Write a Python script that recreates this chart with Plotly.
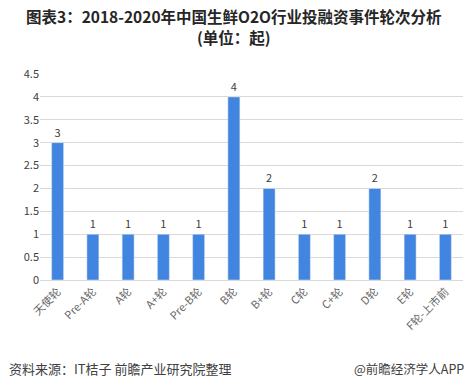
import plotly.graph_objects as go

categories = ["天使轮", "Pre-A轮", "A轮", "A+轮", "Pre-B轮", "B轮", "B+轮", "C轮", "C+轮", "D轮", "E轮", "F轮-上市前"]
values = [3, 1, 1, 1, 1, 4, 2, 1, 1, 2, 1, 1]
y_ticks = [0, 0.5, 1, 1.5, 2, 2.5, 3, 3.5, 4, 4.5]
y_tick_labels = ["0", "0.5", "1", "1.5", "2", "2.5", "3", "3.5", "4", "4.5"]

W, H = 469, 390
L, R, T, B = 40, 6, 74, 110
pw, ph = W - L - R, H - T - B

def px(x):
    return (x - L) / pw

def py(y):
    return (H - B - y) / ph

fig = go.Figure()
fig.add_trace(go.Bar(
    x=categories, y=values, width=0.34,
    marker=dict(color="#4285E0"),
    text=[str(v) for v in values], textposition="outside",
    textfont=dict(size=11, color="#404040"),
    cliponaxis=False,
))

fig.update_layout(
    width=W, height=H,
    margin=dict(l=L, r=R, t=T, b=B, autoexpand=False),
    plot_bgcolor="white", paper_bgcolor="white",
    font=dict(family="Noto Sans CJK SC, sans-serif", color="#595959", size=11),
    showlegend=False,
    xaxis=dict(
        tickangle=-45, tickfont=dict(size=11, color="#666666"),
        showline=True, linecolor="#d9d9d9", ticks="", automargin=False,
    ),
    yaxis=dict(
        range=[0, 4.5], tickvals=y_ticks, ticktext=y_tick_labels,
        showgrid=True, gridcolor="#d9d9d9", zeroline=False,
        tickfont=dict(size=11, color="#404040"), ticks="", automargin=False,
    ),
    annotations=[
        dict(text="<b>图表3：2018-2020年中国生鲜O2O行业投融资事件轮次分析</b>",
             x=px(234), y=py(16), xref="paper", yref="paper",
             xanchor="center", yanchor="middle", showarrow=False,
             font=dict(size=15.5, color="#262626")),
        dict(text="<b>(单位：起)</b>",
             x=px(234), y=py(37), xref="paper", yref="paper",
             xanchor="center", yanchor="middle", showarrow=False,
             font=dict(size=15.5, color="#262626")),
        dict(text="资料来源：IT桔子 前瞻产业研究院整理", x=px(7), xref="paper", xanchor="left",
             y=py(368), yref="paper", yanchor="middle", showarrow=False,
             font=dict(size=13, color="#404040")),
        dict(text="@前瞻经济学人APP", x=px(466), xref="paper", xanchor="right",
             y=py(368), yref="paper", yanchor="middle", showarrow=False,
             font=dict(size=12.5, color="#404040")),
    ],
)

fig.write_html("out.html", config={"displayModeBar": False})
with open("out.html", "r", encoding="utf-8") as f:
    html = f.read()
html = html.replace("<head>", "<head><style>html,body{margin:0;padding:0;overflow:hidden;}</style>", 1)
with open("out.html", "w", encoding="utf-8") as f:
    f.write(html)
